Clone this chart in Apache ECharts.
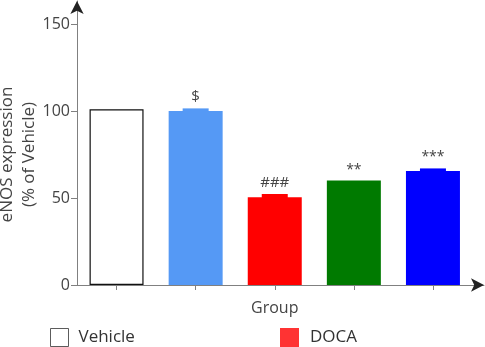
<!DOCTYPE html>
<html>
<head>
<meta charset="utf-8">
<script src="https://cdn.jsdelivr.net/npm/echarts@6/dist/echarts.min.js"></script>
<style>
  html, body { margin: 0; padding: 0; background: #fff; }
  #chart { width: 485px; height: 347px; }
</style>
</head>
<body>
<div id="chart"></div>
<script>
// 数据
const groups = ['Vehicle', 'Vehicle+X', 'DOCA', 'DOCA+A', 'DOCA+B'];
const means = [101, 100, 50.5, 60, 65.5];
const errors = [0, 1.5, 1.8, 0, 1.5];
const marks = ['', '$', '###', '**', '***'];
const colors = ['#ffffff', '#5599f5', '#ff0000', '#007a00', '#0000ff'];
const yTicks = [0, 50, 100, 150];

const chart = echarts.init(document.getElementById('chart'));
const textColor = '#444';
const axisColor = '#808080';
const arrowColor = '#222';
const font = 'Open Sans';

// 带箭头的坐标轴（画在单独的 grid 上，线比数据区长）
const lineAxis = (gridIndex, withArrow) => ({
  gridIndex: gridIndex,
  type: 'value',
  min: 0, max: 1,
  axisLine: {
    show: true,
    symbol: withArrow ? ['none', 'arrow'] : ['none', 'none'],
    symbolSize: [10, 13],
    lineStyle: withArrow ? { color: arrowColor, width: 0 } : { color: axisColor, width: 1 }
  },
  axisTick: { show: false },
  axisLabel: { show: false },
  splitLine: { show: false }
});

const outerGrid = { left: 77, right: 1, top: 1, bottom: 62, outerBoundsMode: 'none', containLabel: false };

const option = {
  animation: false,
  textStyle: { fontFamily: font },
  grid: [
    { left: 77, right: 12.5, top: 24, bottom: 62, outerBoundsMode: 'none', containLabel: false },
    outerGrid,
    Object.assign({}, outerGrid)
  ],
  legend: [
    {
      left: 50, top: 328, padding: 0,
      itemWidth: 18, itemHeight: 18,
      textStyle: { color: '#333', fontSize: 17, fontFamily: font, padding: [0, 0, 0, 5] },
      data: [{ name: 'Vehicle', icon: 'rect', itemStyle: { color: '#fff', borderColor: '#333', borderWidth: 1 } }]
    },
    {
      left: 280, top: 328, padding: 0,
      itemWidth: 19, itemHeight: 19,
      textStyle: { color: '#333', fontSize: 17, fontFamily: font, padding: [0, 0, 0, 6] },
      data: [{ name: 'DOCA', icon: 'rect', itemStyle: { color: '#ff0000' } }]
    }
  ],
  xAxis: [
    {
      type: 'category',
      data: groups,
      name: 'Group',
      nameLocation: 'middle',
      nameGap: 15,
      nameMoveOverlap: false,
      nameTextStyle: { color: textColor, fontSize: 16 },
      axisLine: { show: false },
      axisTick: { show: true, alignWithLabel: true, length: 5, lineStyle: { color: axisColor } },
      axisLabel: { show: false }
    },
    lineAxis(1, false),
    lineAxis(2, true)
  ],
  yAxis: [
    {
      type: 'value',
      min: 0, max: 150, interval: 50,
      name: 'eNOS expression\n(% of Vehicle)',
      nameLocation: 'middle',
      nameGap: 37,
      nameMoveOverlap: false,
      nameTextStyle: { color: textColor, fontSize: 17, lineHeight: 22 },
      axisLine: { show: false },
      axisTick: { show: true, length: 6, lineStyle: { color: axisColor } },
      axisLabel: {
        color: textColor, fontSize: 16, margin: 7,
        formatter: v => yTicks.indexOf(v) >= 0 ? String(v) : ''
      },
      splitLine: { show: false }
    },
    lineAxis(1, false),
    lineAxis(2, true)
  ],
  series: [
    {
      type: 'bar',
      barWidth: 54,
      data: means.map((v, i) => ({
        value: v,
        itemStyle: i === 0
          ? { color: '#fff', borderColor: '#111', borderWidth: 1.2 }
          : { color: colors[i] }
      }))
    },
    {
      // 误差帽和显著性标记
      type: 'custom',
      data: means.map((v, i) => [i, v, errors[i]]),
      z: 5,
      renderItem: function (params, api) {
        const i = params.dataIndex;
        const base = api.coord([api.value(0), api.value(1)]);
        const top = api.coord([api.value(0), api.value(1) + api.value(2)]);
        const children = [];
        if (errors[i] > 0) {
          children.push({
            type: 'rect',
            shape: { x: base[0] - 13, y: top[1], width: 26, height: base[1] - top[1] + 1 },
            style: { fill: colors[i] }
          });
        }
        if (marks[i]) {
          children.push({
            type: 'text',
            x: base[0], y: top[1] - 4,
            style: {
              text: marks[i], fill: textColor, fontSize: marks[i][0] === '*' ? 14 : 15, fontFamily: font,
              align: 'center', verticalAlign: 'bottom'
            }
          });
        }
        return { type: 'group', children: children };
      }
    },
    { name: 'Vehicle', type: 'scatter', data: [], itemStyle: { color: '#fff' } },
    { name: 'DOCA', type: 'scatter', data: [], itemStyle: { color: '#ff0000' } }
  ]
};

chart.setOption(option);
</script>
</body>
</html>
